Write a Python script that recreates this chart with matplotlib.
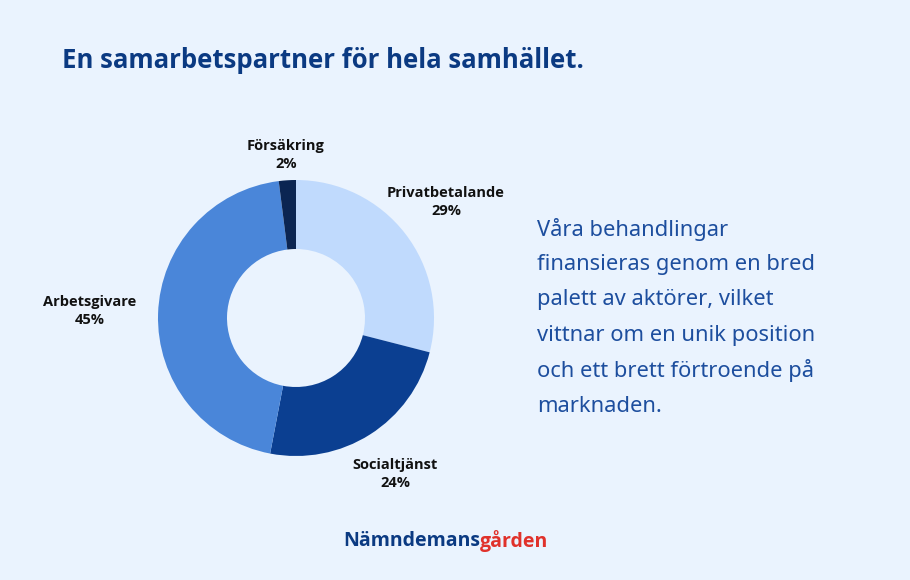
import matplotlib.pyplot as plt

# data
labels = ["Privatbetalande", "Socialtjänst", "Arbetsgivare", "Försäkring"]
shares = [29, 24, 45, 2]
colors = ["#C0DAFD", "#0B3F91", "#4A86D9", "#0B2552"]

bg = "#EAF3FE"
W, H = 910, 580
fig = plt.figure(figsize=(W / 100, H / 100), dpi=100, facecolor=bg)

# donut
cx, cy, r = 296, 318, 138
ax = fig.add_axes([(cx - r) / W, (H - cy - r) / H, 2 * r / W, 2 * r / H])
ax.set_facecolor(bg)
ax.pie(shares, colors=colors, startangle=90, counterclock=False,
       wedgeprops=dict(width=0.5, edgecolor="none"), radius=1)
ax.set_xlim(-1, 1)
ax.set_ylim(-1, 1)
ax.set_aspect("equal")
ax.axis("off")

# slice labels (pixel positions)
label_pos = {
    "Privatbetalande": (446, 202),
    "Socialtjänst": (395, 474),
    "Arbetsgivare": (90, 311),
    "Försäkring": (286, 155),
}
for lab, val in zip(labels, shares):
    x, y = label_pos[lab]
    fig.text(x / W, 1 - y / H, f"{lab}\n{val}%", ha="center", va="center",
             fontsize=10.5, fontweight="bold", color="#111111",
             family="Open Sans", linespacing=1.3)

fig.text(62 / W, 1 - 60 / H, "En samarbetspartner för hela samhället.",
         ha="left", va="center", fontsize=18.5, fontweight="bold",
         color="#0B3A82", family="Open Sans")

body = ["Våra behandlingar", "finansieras genom en bred", "palett av aktörer, vilket",
        "vittnar om en unik position", "och ett brett förtroende på", "marknaden."]
for i, line in enumerate(body):
    fig.text(537 / W, 1 - (229 + i * 35.5) / H, line, ha="left", va="center",
             fontsize=15.8, color="#1D4E9E", family="Noto Sans")

# logo: two coloured parts joined, centred at x=446
t1 = fig.text(0, 1 - 541 / H, "Nämndemans", ha="left", va="center",
              fontsize=14, fontweight="bold", color="#0B3A82", family="Open Sans")
t2 = fig.text(0, 1 - 541 / H, "gården", ha="left", va="center",
              fontsize=14, fontweight="bold", color="#E0312B", family="Open Sans")
rend = fig.canvas.get_renderer()
w1 = t1.get_window_extent(rend).width
w2 = t2.get_window_extent(rend).width
x0 = 446 - (w1 + w2) / 2
t1.set_x(x0 / W)
t2.set_x((x0 + w1) / W)

fig.savefig("out.png", dpi=100, facecolor=bg)
